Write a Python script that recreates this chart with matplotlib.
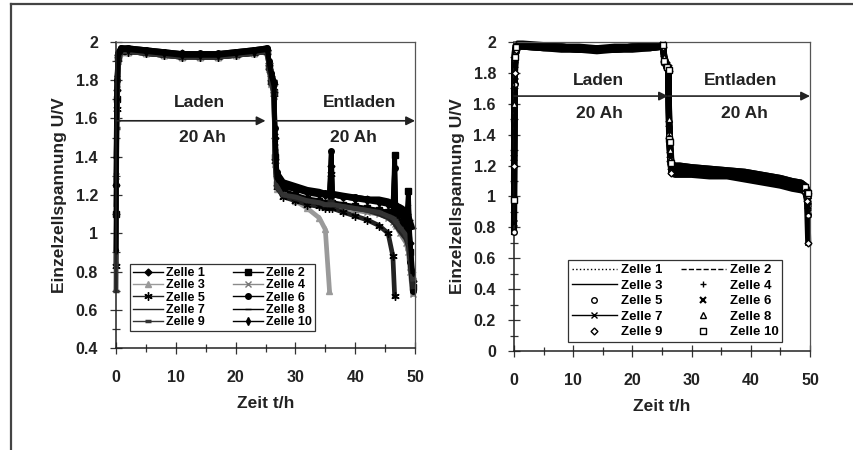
import numpy as np
import matplotlib
matplotlib.use("Agg")
import matplotlib.pyplot as plt
from matplotlib.ticker import MultipleLocator, FuncFormatter
from matplotlib.lines import Line2D

plt.rcParams['font.family'] = ['Liberation Sans', 'DejaVu Sans']
plt.rcParams['font.weight'] = 'bold'

nan = np.nan

# ---------------- left panel data (Zeit t/h, Einzelzellspannung U/V) ----------------
t_left = [0, 0.15, 0.4, 0.8, 2, 5, 8, 11, 14, 17, 20, 23, 25.3,
          25.6, 26.0, 26.4, 26.6, 26.9, 28,
          30, 32, 34, 35, 35.7, 36, 36.2, 38, 40, 42, 44, 45.5, 46.3, 46.6, 46.8, 47.5, 48.5, 48.9, 49.2, 49.6]

L1 = [1.25, 1.75, 1.93, 1.96, 1.96, 1.95, 1.94, 1.94, 1.93, 1.93, 1.94, 1.95, 1.96,
      1.89, 1.82, 1.78, 1.50, 1.30, 1.25,
      1.23, 1.22, 1.21, 1.20, 1.20, 1.35, 1.20, 1.19, 1.18, 1.18, 1.17, 1.16, 1.15, 1.14, 1.14, 1.12, 1.09, 1.06, 0.95, 0.75]
L2 = [1.10, 1.70, 1.92, 1.95, 1.95, 1.94, 1.93, 1.92, 1.92, 1.92, 1.93, 1.94, 1.95,
      1.87, 1.80, 1.74, 1.40, 1.26, 1.22,
      1.20, 1.18, 1.17, 1.16, 1.16, 1.16, 1.16, 1.15, 1.14, 1.13, 1.12, 1.11, 1.10, 1.41, 1.09, 1.06, 1.02, 1.22, 0.90, 0.72]
L3 = [0.85, 1.60, 1.90, 1.95, 1.95, 1.94, 1.93, 1.92, 1.92, 1.92, 1.93, 1.94, 1.95,
      1.86, 1.78, 1.72, 1.36, 1.23, 1.20,
      1.17, 1.13, 1.08, 1.02, 0.70, nan, nan, nan, nan, nan, nan, nan, nan, nan, nan, nan, nan, nan, nan, nan]
L4 = [1.30, 1.78, 1.93, 1.96, 1.96, 1.95, 1.94, 1.93, 1.93, 1.93, 1.94, 1.95, 1.96,
      1.88, 1.81, 1.76, 1.45, 1.26, 1.20,
      1.18, 1.16, 1.15, 1.14, 1.14, 1.14, 1.14, 1.13, 1.12, 1.11, 1.10, 1.08, 1.06, 1.05, 1.04, 1.00, 0.95, 0.90, 0.80, 0.68]
L5 = [0.83, 1.65, 1.91, 1.95, 1.95, 1.94, 1.93, 1.92, 1.92, 1.92, 1.93, 1.94, 1.95,
      1.87, 1.79, 1.73, 1.38, 1.24, 1.19,
      1.17, 1.15, 1.14, 1.13, 1.13, 1.31, 1.13, 1.11, 1.09, 1.07, 1.04, 1.00, 0.88, 0.67, nan, nan, nan, nan, nan, nan]
L6 = [1.25, 1.80, 1.94, 1.97, 1.97, 1.96, 1.95, 1.94, 1.94, 1.94, 1.95, 1.96, 1.97,
      1.90, 1.84, 1.79, 1.55, 1.32, 1.26,
      1.24, 1.22, 1.21, 1.21, 1.20, 1.43, 1.20, 1.19, 1.19, 1.18, 1.17, 1.16, 1.15, 1.34, 1.14, 1.12, 1.08, 1.00, 0.85, 0.70]
L7 = [1.15, 1.60, 1.90, 1.95, 1.95, 1.94, 1.93, 1.93, 1.92, 1.92, 1.93, 1.94, 1.95,
      1.86, 1.79, 1.74, 1.40, 1.25, 1.20,
      1.18, 1.17, 1.16, 1.15, 1.15, 1.15, 1.15, 1.14, 1.13, 1.12, 1.10, 1.08, 1.06, 1.05, 1.04, 1.01, 0.97, 0.93, 0.85, 0.72]
L8 = [1.40, 1.82, 1.95, 1.97, 1.97, 1.96, 1.95, 1.94, 1.94, 1.94, 1.95, 1.96, 1.97,
      1.90, 1.84, 1.80, 1.52, 1.32, 1.27,
      1.25, 1.23, 1.22, 1.21, 1.21, 1.21, 1.21, 1.20, 1.19, 1.18, 1.18, 1.17, 1.16, 1.16, 1.15, 1.14, 1.12, 1.10, 1.07, 1.03]
L9 = [0.70, 1.55, 1.90, 1.95, 1.95, 1.94, 1.93, 1.92, 1.92, 1.92, 1.93, 1.94, 1.95,
      1.86, 1.78, 1.73, 1.37, 1.24, 1.20,
      1.19, 1.17, 1.16, 1.15, 1.15, 1.15, 1.15, 1.14, 1.13, 1.12, 1.11, 1.09, 1.08, 1.07, 1.06, 1.03, 0.99, 0.95, 0.88, 0.76]
L10 = [0.91, 1.70, 1.93, 1.96, 1.96, 1.95, 1.94, 1.93, 1.93, 1.93, 1.94, 1.95, 1.96,
       1.89, 1.82, 1.77, 1.48, 1.29, 1.24,
       1.23, 1.21, 1.20, 1.20, 1.20, 1.42, 1.20, 1.19, 1.18, 1.17, 1.16, 1.15, 1.14, 1.13, 1.13, 1.10, 1.06, 1.15, 0.95, 0.80]

# ---------------- right panel data ----------------
t_right = [0, 0.1, 0.3, 0.6, 1.5, 5, 8, 11, 14, 17, 20, 23, 25.2,
           25.4, 25.8, 26.1, 26.2, 26.4, 26.6,
           27.2, 28, 30, 33, 36, 39, 42, 45, 47, 48.5, 49.2, 49.5, 49.7]

R1 = [1.50, 1.90, 1.97, 1.98, 1.98, 1.97, 1.97, 1.96, 1.96, 1.96, 1.97, 1.97, 1.98,
      1.90, 1.86, 1.84, 1.50, 1.30, 1.21,
      1.20, 1.20, 1.19, 1.18, 1.17, 1.16, 1.14, 1.12, 1.10, 1.09, 1.07, 1.05, 1.03]
R2 = [1.40, 1.88, 1.96, 1.98, 1.98, 1.97, 1.97, 1.96, 1.96, 1.96, 1.97, 1.97, 1.98,
      1.89, 1.85, 1.83, 1.48, 1.28, 1.20,
      1.19, 1.19, 1.18, 1.17, 1.16, 1.15, 1.13, 1.11, 1.09, 1.08, 1.06, 1.04, 1.02]
R3 = [1.10, 1.85, 1.96, 1.98, 1.98, 1.97, 1.96, 1.96, 1.95, 1.96, 1.96, 1.97, 1.97,
      1.88, 1.84, 1.82, 1.45, 1.26, 1.18,
      1.17, 1.17, 1.16, 1.16, 1.15, 1.14, 1.12, 1.10, 1.08, 1.06, 1.05, 1.02, 0.97]
R4 = [1.30, 1.80, 1.95, 1.98, 1.98, 1.97, 1.96, 1.95, 1.95, 1.95, 1.96, 1.97, 1.97,
      1.88, 1.84, 1.82, 1.42, 1.25, 1.17,
      1.16, 1.16, 1.15, 1.15, 1.14, 1.13, 1.11, 1.09, 1.07, 1.05, 1.04, 1.01, 0.95]
R5 = [0.77, 1.73, 1.94, 1.97, 1.97, 1.96, 1.96, 1.95, 1.95, 1.95, 1.96, 1.96, 1.97,
      1.87, 1.83, 1.81, 1.40, 1.24, 1.16,
      1.15, 1.15, 1.15, 1.14, 1.14, 1.12, 1.10, 1.08, 1.06, 1.05, 1.03, 0.99, 0.88]
R6 = [1.25, 1.85, 1.96, 1.98, 1.98, 1.97, 1.97, 1.96, 1.96, 1.96, 1.97, 1.97, 1.98,
      1.89, 1.85, 1.83, 1.47, 1.27, 1.19,
      1.18, 1.18, 1.17, 1.17, 1.16, 1.14, 1.12, 1.10, 1.08, 1.07, 1.05, 1.02, 0.94]
R7 = [0.83, 1.75, 1.95, 1.97, 1.97, 1.96, 1.96, 1.95, 1.95, 1.95, 1.96, 1.96, 1.97,
      1.87, 1.84, 1.82, 1.43, 1.25, 1.17,
      1.16, 1.16, 1.15, 1.15, 1.14, 1.13, 1.11, 1.09, 1.07, 1.05, 1.04, 1.00, 0.90]
R8 = [1.60, 1.93, 1.98, 1.99, 1.99, 1.98, 1.97, 1.97, 1.96, 1.97, 1.97, 1.98, 1.98,
      1.90, 1.86, 1.84, 1.50, 1.30, 1.21,
      1.20, 1.20, 1.19, 1.18, 1.17, 1.16, 1.14, 1.12, 1.10, 1.09, 1.07, 1.05, 1.01]
R9 = [1.20, 1.80, 1.95, 1.97, 1.97, 1.96, 1.95, 1.95, 1.94, 1.95, 1.95, 1.96, 1.97,
      1.87, 1.83, 1.81, 1.38, 1.23, 1.15,
      1.14, 1.14, 1.14, 1.13, 1.13, 1.11, 1.09, 1.07, 1.05, 1.04, 1.03, 0.97, 0.70]
R10 = [0.98, 1.90, 1.97, 1.98, 1.98, 1.97, 1.97, 1.96, 1.96, 1.96, 1.97, 1.97, 1.98,
       1.88, 1.84, 1.82, 1.37, 1.35, 1.22,
       1.19, 1.18, 1.17, 1.17, 1.16, 1.15, 1.13, 1.11, 1.09, 1.08, 1.06, 1.03, 1.02]

labels = ['Zelle %d' % i for i in range(1, 11)]

# styles (left: line + marker, right: line styles / marker only)
left_styles = [
    dict(color='k', marker='D', ms=3.5, mfc='k'),
    dict(color='k', marker='s', ms=4, mfc='k'),
    dict(color='#9a9a9a', marker='^', ms=4, mfc='#9a9a9a', mec='#9a9a9a'),
    dict(color='#8a8a8a', marker='x', ms=4.5, mec='#777777'),
    dict(color='#222222', marker=(6, 2, 0), ms=6, mec='k'),
    dict(color='k', marker='o', ms=4, mfc='k'),
    dict(color='#222222', marker=None),
    dict(color='k', marker='_', ms=5),
    dict(color='#333333', marker='_', ms=5, mew=2.5),
    dict(color='k', marker='d', ms=4, mfc='k'),
]
right_styles = [
    dict(color='k', ls=':', marker=None),
    dict(color='k', ls='--', marker=None),
    dict(color='k', ls='-', marker=None),
    dict(color='k', ls='none', marker='+', ms=5),
    dict(color='k', ls='none', marker='o', ms=4, mfc='white'),
    dict(color='k', ls='none', marker='x', ms=4, mew=1.5),
    dict(color='k', ls='-', marker='x', ms=5),
    dict(color='k', ls='none', marker='^', ms=4, mfc='white'),
    dict(color='k', ls='none', marker='D', ms=3.5, mfc='white'),
    dict(color='k', ls='none', marker='s', ms=4, mfc='white'),
]
# markers of the right panel are only visible outside the dense band
right_marks = [0, 1, 2, 12, 13, 14, 15, 16, 17, 18, 29, 30, 31]

# legend rows are filled left to right: reorder for matplotlib's column filling
legend_order = [0, 2, 4, 6, 8, 1, 3, 5, 7, 9]

fig = plt.figure(figsize=(8.54, 4.5), dpi=100)
W, H = 854.0, 450.0

# outer frame lines of the scanned page
fig.add_artist(Line2D([11 / W, 11 / W], [0, 1 - 4 / H], color='#444444', lw=1.6))
fig.add_artist(Line2D([11 / W, 1], [1 - 4 / H, 1 - 4 / H], color='#444444', lw=1.6))

axL = fig.add_axes([116 / W, 1 - 348 / H, 299 / W, 306 / H])
axR = fig.add_axes([514 / W, 1 - 351 / H, 296 / W, 309 / H])


def style_axis(ax, ylo, yhi):
    ax.set_xlim(0, 50)
    ax.set_ylim(ylo, yhi)
    ax.xaxis.set_major_locator(MultipleLocator(10))
    ax.xaxis.set_minor_locator(MultipleLocator(5))
    ax.yaxis.set_major_locator(MultipleLocator(0.2))
    ax.yaxis.set_minor_locator(MultipleLocator(0.1))
    ax.yaxis.set_major_formatter(FuncFormatter(lambda v, p: '%g' % round(v, 2)))
    ax.tick_params(which='major', direction='inout', length=8, width=0.9, color='#333333',
                   labelsize=11.5, pad=9, labelcolor='#222222')
    ax.tick_params(which='minor', direction='inout', length=6, width=0.9, color='#333333')
    ax.tick_params(axis='x', which='major', pad=12)
    for side in ['top', 'right']:
        ax.spines[side].set_color('#555555')
        ax.spines[side].set_linewidth(0.9)
    for side in ['left', 'bottom']:
        ax.spines[side].set_color('#222222')
        ax.spines[side].set_linewidth(1.1)
    for lab in ax.get_xticklabels() + ax.get_yticklabels():
        lab.set_fontweight('bold')
    ax.set_xlabel('Zeit t/h', fontsize=12.5, fontweight='bold', color='#222222', labelpad=8)
    ax.set_ylabel('Einzelzellspannung U/V', fontsize=12.5, fontweight='bold', color='#222222', labelpad=6)


# left panel
series_left = [L1, L2, L3, L4, L5, L6, L7, L8, L9, L10]
handles = []
for u, st, lab in zip(series_left, left_styles, labels):
    kw = dict(st)
    kw.setdefault('mec', kw['color'])
    axL.plot(t_left, u, lw=3.4, clip_on=False, **kw)
    handles.append(Line2D([], [], lw=1.0, label=lab, **kw))
style_axis(axL, 0.4, 2.0)
axL.legend(handles=[handles[i] for i in legend_order], ncol=2, loc='upper left',
           bbox_to_anchor=(130 / W, 1 - 264 / H),
           bbox_transform=fig.transFigure, frameon=True, fancybox=False, edgecolor='#333333',
           framealpha=1, prop=dict(weight='bold', size=9), labelspacing=0.02, borderpad=0.25,
           handlelength=2.4, handletextpad=0.25, columnspacing=2.2, borderaxespad=0)
axL.legend_.get_frame().set_linewidth(0.9)

arrow = dict(arrowstyle='-|>', color='#222222', lw=1.2, mutation_scale=13, shrinkA=0, shrinkB=0)
axL.annotate('', xy=(25.0, 1.588), xytext=(0, 1.588), arrowprops=arrow)
axL.annotate('', xy=(50, 1.588), xytext=(26.8, 1.588), arrowprops=arrow)
txt = dict(fontsize=12.5, fontweight='bold', color='#222222', ha='center', va='center')
axL.text(14.0, 1.685, 'Laden', **txt)
axL.text(14.4, 1.50, '20 Ah', **txt)
axL.text(40.8, 1.685, 'Entladen', **txt)
axL.text(39.7, 1.50, '20 Ah', **txt)

# right panel
series_right = [R1, R2, R3, R4, R5, R6, R7, R8, R9, R10]
handles = []
for u, st, lab in zip(series_right, right_styles, labels):
    axR.plot(t_right, u, color='k', lw=4.4, zorder=2, clip_on=False)
    axR.plot(t_right, u, lw=1.0, zorder=3, clip_on=False, markevery=right_marks, **st)
    handles.append(Line2D([], [], lw=1.0, label=lab, **st))
style_axis(axR, 0.0, 2.0)
axR.legend(handles=[handles[i] for i in legend_order], ncol=2, loc='upper left',
           bbox_to_anchor=(568 / W, 1 - 260 / H),
           bbox_transform=fig.transFigure, frameon=True, fancybox=False, edgecolor='#333333',
           framealpha=1, prop=dict(weight='bold', size=9.5), labelspacing=0.25, borderpad=0.3,
           handlelength=3.4, handletextpad=0.3, columnspacing=1.4, borderaxespad=0)
axR.legend_.get_frame().set_linewidth(0.9)

axR.annotate('', xy=(26.0, 1.65), xytext=(0, 1.65), arrowprops=arrow)
axR.annotate('', xy=(50, 1.65), xytext=(26.0, 1.65), arrowprops=arrow)
axR.text(14.2, 1.754, 'Laden', **txt)
axR.text(14.5, 1.534, '20 Ah', **txt)
axR.text(38.2, 1.754, 'Entladen', **txt)
axR.text(38.9, 1.534, '20 Ah', **txt)

fig.savefig('out.png', dpi=100, facecolor='white')
